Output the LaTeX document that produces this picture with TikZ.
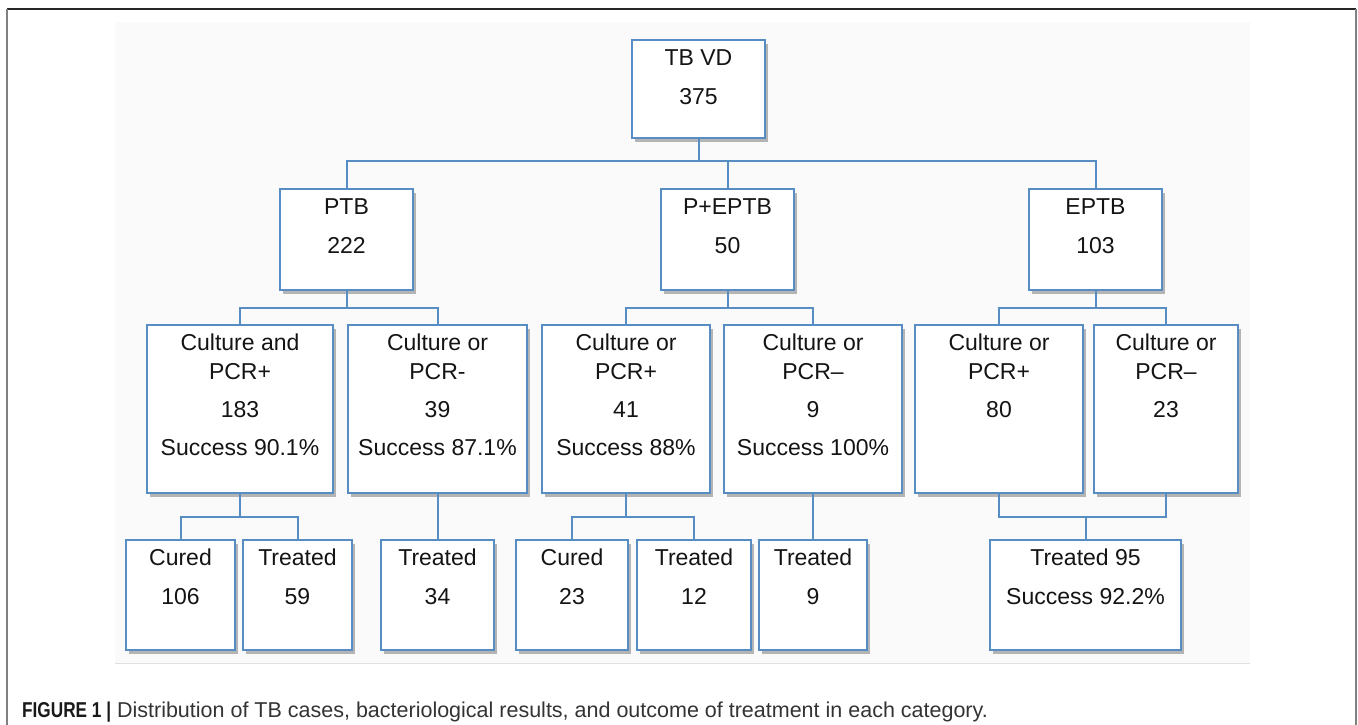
\documentclass[tikz,border=0pt]{standalone}
\usepackage{fontspec}
\setmainfont{Liberation Sans}
\newfontfamily\capbold[FakeStretch=0.8]{Liberation Sans}
\usetikzlibrary{shadows}
\definecolor{bblue}{RGB}{88,141,196}
\begin{document}
\begin{tikzpicture}[x=1pt,y=-1pt,
  box/.style={draw=bblue, line width=2pt, fill=white, inner sep=0pt,
    drop shadow={shadow xshift=3pt, shadow yshift=-4pt, fill=black, opacity=0.28}},
  lbl/.style={align=center, inner sep=0pt, anchor=north, font=\fontsize{23}{29}\selectfont, text=black!92},
  conn/.style={draw=bblue, line width=2pt}]
\useasboundingbox (0,0) rectangle (1358,725);
% frame and photo area
\fill[black!2] (115,22) rectangle (1250,663);
\draw[black!12, line width=1pt] (115,663) -- (1250,663);
\draw[black!85, line width=1.5pt] (7,9) -- (1356,9);
\draw[black!50, line width=2pt] (7,9) -- (7,725);
\draw[black!50, line width=2pt] (1356,9) -- (1356,725);
% bus coordinates
\coordinate (bus1) at (0,161);
\coordinate (bus2) at (0,307.5);
\coordinate (bus3) at (0,516.5);
% row 0
\node[box, minimum width=133pt, minimum height=98pt] (tbvd) at (698.5,89) {};
% row 1
\node[box, minimum width=133pt, minimum height=101pt] (ptb) at (346.5,239.5) {};
\node[box, minimum width=133pt, minimum height=101pt] (pe) at (727.5,239.5) {};
\node[box, minimum width=133pt, minimum height=101pt] (eptb) at (1095.5,239.5) {};
% row 2
\node[box, minimum width=186pt, minimum height=168pt] (a) at (240,409) {};
\node[box, minimum width=179pt, minimum height=168pt] (b) at (437.5,409) {};
\node[box, minimum width=168pt, minimum height=168pt] (c) at (626,409) {};
\node[box, minimum width=178pt, minimum height=168pt] (d) at (813,409) {};
\node[box, minimum width=168pt, minimum height=168pt] (e) at (999,409) {};
\node[box, minimum width=144pt, minimum height=168pt] (f) at (1166,409) {};
% row 3
\node[box, minimum width=109pt, minimum height=110pt] (cu1) at (180.5,595) {};
\node[box, minimum width=109pt, minimum height=110pt] (tr1) at (297.5,595) {};
\node[box, minimum width=113pt, minimum height=110pt] (tr2) at (437.5,595) {};
\node[box, minimum width=112pt, minimum height=110pt] (cu2) at (572,595) {};
\node[box, minimum width=114pt, minimum height=110pt] (tr3) at (694,595) {};
\node[box, minimum width=108pt, minimum height=110pt] (tr4) at (813,595) {};
\node[box, minimum width=191pt, minimum height=110pt] (t95) at (1085.5,595) {};
% labels
\node[lbl] at ([yshift=-10pt]tbvd.north) {TB VD\\[10pt]375};
\node[lbl] at ([yshift=-10pt]ptb.north) {PTB\\[10pt]222};
\node[lbl] at ([yshift=-10pt]pe.north) {P+EPTB\\[10pt]50};
\node[lbl] at ([yshift=-10pt]eptb.north) {EPTB\\[10pt]103};
\node[lbl] at ([yshift=-10pt]a.north) {Culture and\\PCR+\\[9pt]183\\[9pt]Success 90.1\%};
\node[lbl] at ([yshift=-10pt]b.north) {Culture or\\PCR-\\[9pt]39\\[9pt]Success 87.1\%};
\node[lbl] at ([yshift=-10pt]c.north) {Culture or\\PCR+\\[9pt]41\\[9pt]Success 88\%};
\node[lbl] at ([yshift=-10pt]d.north) {Culture or\\PCR–\\[9pt]9\\[9pt]Success 100\%};
\node[lbl] at ([yshift=-10pt]e.north) {Culture or\\PCR+\\[9pt]80};
\node[lbl] at ([yshift=-10pt]f.north) {Culture or\\PCR–\\[9pt]23};
\node[lbl] at ([yshift=-10pt]cu1.north) {Cured\\[10pt]106};
\node[lbl] at ([yshift=-10pt]tr1.north) {Treated\\[10pt]59};
\node[lbl] at ([yshift=-10pt]tr2.north) {Treated\\[10pt]34};
\node[lbl] at ([yshift=-10pt]cu2.north) {Cured\\[10pt]23};
\node[lbl] at ([yshift=-10pt]tr3.north) {Treated\\[10pt]12};
\node[lbl] at ([yshift=-10pt]tr4.north) {Treated\\[10pt]9};
\node[lbl] at ([yshift=-10pt]t95.north) {Treated 95\\[10pt]Success 92.2\%};
% connectors
\draw[conn] (tbvd.south) -- (tbvd.south|-bus1);
\draw[conn] (ptb.north) |- (eptb.north|-bus1) -- (eptb.north);
\draw[conn] (pe.north) -- (pe.north|-bus1);
\draw[conn] (ptb.south) -- (ptb.south|-bus2);
\draw[conn] (a.north) |- (b.north|-bus2) -- (b.north);
\draw[conn] (pe.south) -- (pe.south|-bus2);
\draw[conn] (c.north) |- (d.north|-bus2) -- (d.north);
\draw[conn] (eptb.south) -- (eptb.south|-bus2);
\draw[conn] (e.north) |- (f.north|-bus2) -- (f.north);
\draw[conn] (a.south) -- (a.south|-bus3);
\draw[conn] (cu1.north) |- (tr1.north|-bus3) -- (tr1.north);
\draw[conn] (b.south) -- (tr2.north);
\draw[conn] (c.south) -- (c.south|-bus3);
\draw[conn] (cu2.north) |- (tr3.north|-bus3) -- (tr3.north);
\draw[conn] (d.south) -- (tr4.north);
\draw[conn] (e.south) |- (f.south|-bus3) -- (f.south);
\draw[conn] (t95.north) -- (t95.north|-bus3);
% caption
\node[anchor=west, inner sep=0pt, text=black!80] (cap) at (22,712)
  {\fontsize{21.5}{26}\selectfont{\capbold\bfseries\color{black!90}FIGURE 1 |} Distribution of TB cases, bacteriological results, and outcome of treatment in each category.};
\end{tikzpicture}
\end{document}
